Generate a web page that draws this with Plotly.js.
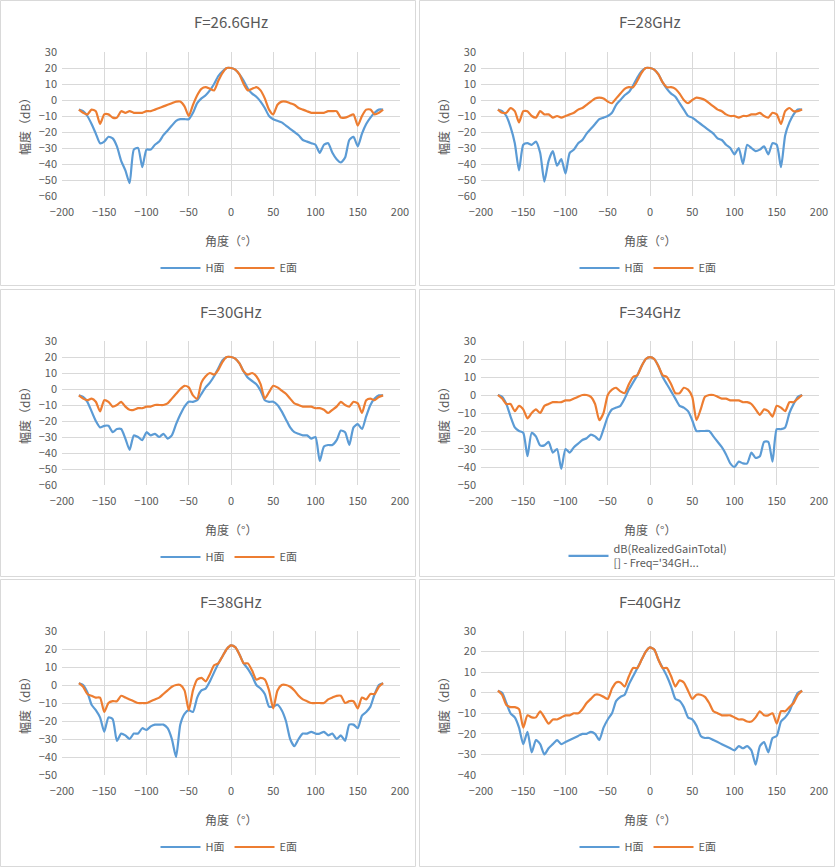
<!DOCTYPE html>
<html>
<head>
<meta charset="utf-8">
<script src="https://cdn.plot.ly/plotly-3.0.1.min.js"></script>
<style>html,body{margin:0;padding:0;background:#fff}#chart{width:835px;height:867px}</style>
</head>
<body>
<div id="chart"></div>
<script>
const angles = [-180,-175,-170,-165,-160,-155,-150,-145,-140,-135,-130,-125,-120,-115,-110,-105,-100,-95,-90,-85,-80,-75,-70,-65,-60,-55,-50,-45,-40,-35,-30,-25,-20,-15,-10,-5,0,5,10,15,20,25,30,35,40,45,50,55,60,65,70,75,80,85,90,95,100,105,110,115,120,125,130,135,140,145,150,155,160,165,170,175,180];

const titles = ['F=26.6GHz', 'F=28GHz', 'F=30GHz', 'F=34GHz', 'F=38GHz', 'F=40GHz'];
const yRanges = [[-60, 30], [-60, 30], [-60, 30], [-50, 30], [-50, 30], [-40, 30]];

const h266 = [-6,-7,-10,-15,-21,-27,-26,-23,-24,-29,-38,-44,-52,-31,-30,-42,-31,-31,-28,-26,-22,-19,-16,-13,-12,-12,-12,-8,-2,1,3,6,10,15,18,20,20,19,16,12,7,4,2,-1,-5,-10,-12,-13,-14,-16,-18,-20,-22,-25,-26,-27,-28,-33,-28,-27,-33,-37,-39,-36,-25,-23,-29,-21,-15,-11,-8,-6,-6];
const e266 = [-6,-8,-9,-6,-7,-15,-9,-9,-11,-11,-7,-8,-7,-8,-8,-8,-7,-7,-6,-5,-4,-3,-2,-1,-1,-4,-10,-3,3,7,8,7,6,12,17,20,20,19,16,10,6,7,8,6,1,-6,-9,-3,-1,-1,-2,-3,-5,-6,-7,-8,-8,-8,-8,-7,-7,-7,-11,-11,-10,-9,-16,-10,-6,-6,-9,-8,-6];

const h28 = [-6,-7,-10,-17,-27,-44,-28,-27,-28,-26,-33,-51,-38,-32,-41,-37,-46,-33,-31,-27,-25,-21,-18,-15,-12,-11,-10,-8,-3,0,3,5,9,14,18,20,20,19,16,11,7,4,2,-2,-6,-10,-11,-13,-15,-17,-19,-21,-24,-25,-28,-30,-34,-30,-40,-28,-30,-32,-31,-29,-34,-27,-28,-42,-22,-14,-9,-6,-6];
const e28 = [-6,-8,-8,-5,-7,-14,-7,-7,-10,-11,-7,-9,-9,-11,-10,-11,-10,-9,-8,-6,-5,-3,-1,1,1.5,1,-1,-2,1,4,7,8,8,12,17,20,20,19,16,11,8,8,7,4,0,-2,0,1.5,1,0,-2,-4,-6,-7,-9,-10,-10,-11,-10,-10,-9,-9,-8,-10,-11,-8,-9,-15,-7,-5,-7,-7,-6];

const h30 = [-4,-5,-8,-14,-20,-24,-23,-23,-27,-25,-25,-31,-38,-29,-30,-32,-27,-29,-28,-30,-28,-31,-29,-22,-16,-11,-8,-8,-7,-3,1,4,8,13,18,20,20,19,16,11,7,5,3,-1,-7,-8,-8,-10,-14,-19,-24,-27,-28,-29,-29,-31,-30,-45,-36,-35,-35,-32,-26,-27,-35,-24,-22,-25,-17,-10,-6,-4,-4];
const e30 = [-4,-6,-7,-6,-8,-14,-7,-8,-11,-10,-8,-11,-13,-13,-12,-12,-11,-11,-10,-10,-10,-9,-6,-3,0,2,1,-4,-6,4,8,10,9,12,17,20,20,19,16,11,9,10,8,3,-6,-2,2,1,-1,-3,-6,-9,-10,-11,-11,-11,-12,-12,-13,-15,-13,-11,-8,-10,-11,-8,-9,-15,-7,-6,-7,-5,-4];

const h34 = [0,-1,-5,-12,-18,-20,-21,-34,-21,-23,-28,-28,-26,-32,-30,-41,-30,-32,-29,-27,-25,-24,-22,-23,-25,-19,-12,-8,-7,-6,-2,3,7,11,16,20,21,20,16,10,6,2,-2,-6,-7,-9,-14,-20,-20,-20,-20,-23,-26,-29,-33,-38,-40,-37,-38,-38,-32,-35,-34,-26,-26,-37,-19,-19,-18,-10,-5,-1,0];
const e34 = [0,-2,-5,-5,-9,-6,-8,-13,-10,-8,-10,-6,-5,-4,-4,-4,-3,-3,-2,-1,0,0,-1,-5,-14,-10,0,3,4,2,1,6,10,11,16,20,21,20,16,11,10,6,1,1,4,3,-1,-14,-8,-1,0,0,-1,-2,-2,-3,-3,-3,-4,-4,-5,-8,-11,-8,-9,-12,-6,-7,-9,-4,-4,-2,0];

const h38 = [1,0,-4,-11,-14,-18,-26,-18,-19,-31,-27,-28,-30,-27,-27,-24,-25,-23,-22,-22,-22,-24,-30,-40,-22,-16,-14,-15,-7,-3,-2,2,7,12,16,20,22,21,17,12,9,5,0,-2,-5,-12,-12,-11,-14,-20,-30,-34,-30,-27,-27,-26,-27,-27,-26,-28,-27,-30,-28,-31,-22,-22,-24,-17,-15,-12,-5,0,1];
const e38 = [1,-1,-5,-6,-7,-7,-15,-10,-9,-9,-6,-7,-8,-9,-10,-10,-10,-9,-8,-7,-5,-3,-1,0,0,-3,-14,-3,3,4,2,6,11,12,16,20,22,21,17,12,12,8,3,4,3,-3,-13,-3,0,0,-1,-3,-6,-8,-9,-10,-10,-10,-10,-8,-7,-6,-6,-10,-9,-9,-13,-7,-8,-5,-5,-1,1];

const h40 = [1,0,-5,-10,-12,-17,-25,-19,-29,-23,-25,-30,-27,-25,-23,-25,-24,-23,-22,-21,-20,-20,-19,-20,-23,-17,-13,-10,-4,-2,-1,4,8,12,16,20,22,21,16,12,8,3,-3,-4,-7,-12,-13,-16,-21,-22,-22,-23,-24,-25,-26,-27,-28,-26,-27,-26,-28,-35,-26,-24,-29,-22,-21,-14,-12,-9,-4,0,1];
const e40 = [1,-1,-6,-7,-7,-8,-17,-11,-12,-12,-9,-12,-15,-13,-13,-12,-11,-11,-10,-10,-8,-5,-3,-1,-1,-2,-3,2,5,5,3,8,12,12,16,20,22,21,16,12,12,8,3,6,5,1,-3,-1,-1,-2,-5,-9,-10,-11,-11,-11,-12,-13,-13,-14,-14,-12,-9,-11,-11,-10,-15,-9,-9,-7,-5,-1,1];

const hSeries = [h266, h28, h30, h34, h38, h40];
const eSeries = [e266, e28, e30, e34, e38, e40];

const BLUE = '#5B9BD5', ORANGE = '#ED7D31';
const W = 835, H = 867;
// plot area pixel boxes [left, right, top, bottom]
const cols = [[62, 400], [481, 819]];
const rows = [[52, 196], [341, 485], [631, 775]];
const boxes = [[0, 416, 0, 286], [419, 835, 0, 286], [0, 416, 289, 577], [419, 835, 289, 577], [0, 416, 579, 867], [419, 835, 579, 867]];
const legendY = [268, 268, 557, 556, 847, 847];

const fx = px => px / W;
const fy = px => 1 - px / H;

const traces = [];
const layout = {
    width: W, height: H,
    margin: { l: 0, r: 0, t: 0, b: 0 },
    paper_bgcolor: '#fff', plot_bgcolor: '#fff',
    font: { family: '"Noto Sans CJK SC", "Open Sans", sans-serif', color: '#595959', size: 11 },
    shapes: [], annotations: []
};

for (let i = 0; i < 6; i++) {
    const c = cols[i % 2], r = rows[Math.floor(i / 2)];
    const n = i === 0 ? '' : String(i + 1);
    const lg = i === 0 ? 'legend' : 'legend' + (i + 1);
    const axStyle = { showgrid: true, gridcolor: '#d9d9d9', gridwidth: 1, zeroline: false, showline: false, ticks: '', tickfont: { size: 11, color: '#595959' } };

    layout['xaxis' + n] = Object.assign({}, axStyle, { domain: [fx(c[0]), fx(c[1])], range: [-200, 200], dtick: 50, anchor: 'y' + n, ticklabelstandoff: 8 });
    layout['yaxis' + n] = Object.assign({}, axStyle, { domain: [fy(r[1]), fy(r[0])], range: yRanges[i], dtick: 10, anchor: 'x' + n, ticklabelstandoff: 4 });

    traces.push({
        x: angles, y: hSeries[i], xaxis: 'x' + n, yaxis: 'y' + n, legend: lg,
        type: 'scatter', mode: 'lines', line: { color: BLUE, width: 2.2, shape: 'spline', smoothing: 0.6 },
        name: i === 3 ? "dB(RealizedGainTotal)<br>[] - Freq='34GH..." : 'H面'
    });
    traces.push({
        x: angles, y: eSeries[i], xaxis: 'x' + n, yaxis: 'y' + n, legend: lg,
        type: 'scatter', mode: 'lines', line: { color: ORANGE, width: 2.2, shape: 'spline', smoothing: 0.6 },
        name: 'E面', showlegend: i !== 3
    });

    layout[lg] = {
        orientation: 'h', x: fx((c[0] + c[1]) / 2 - 2), y: fy(legendY[i]), xanchor: 'center', yanchor: 'middle',
        bgcolor: 'rgba(0,0,0,0)', font: { size: 11, color: '#595959' }, itemwidth: 40
    };

    const b = boxes[i];
    layout.shapes.push({ type: 'rect', xref: 'paper', yref: 'paper', x0: fx(b[0] + 0.5), x1: fx(b[1] - 0.5), y0: fy(b[3] - 0.5), y1: fy(b[2] + 0.5), line: { color: '#d9d9d9', width: 1 } });

    const midX = (c[0] + c[1]) / 2;
    layout.annotations.push({ text: titles[i], xref: 'paper', yref: 'paper', x: fx(midX), y: fy(b[2] + 22), xanchor: 'center', yanchor: 'middle', showarrow: false, font: { size: 15, color: '#595959' } });
    layout.annotations.push({ text: '角度（°）', xref: 'paper', yref: 'paper', x: fx(midX), y: fy(r[1] + 44), xanchor: 'center', yanchor: 'middle', showarrow: false, font: { size: 12, color: '#595959' } });
    layout.annotations.push({ text: '幅度（dB）', xref: 'paper', yref: 'paper', x: fx(c[0] - 38), y: fy((r[0] + r[1]) / 2), xanchor: 'center', yanchor: 'middle', textangle: -90, showarrow: false, font: { size: 12, color: '#595959' } });
}

Plotly.newPlot('chart', traces, layout, { displayModeBar: false, staticPlot: true });
</script>
</body>
</html>
